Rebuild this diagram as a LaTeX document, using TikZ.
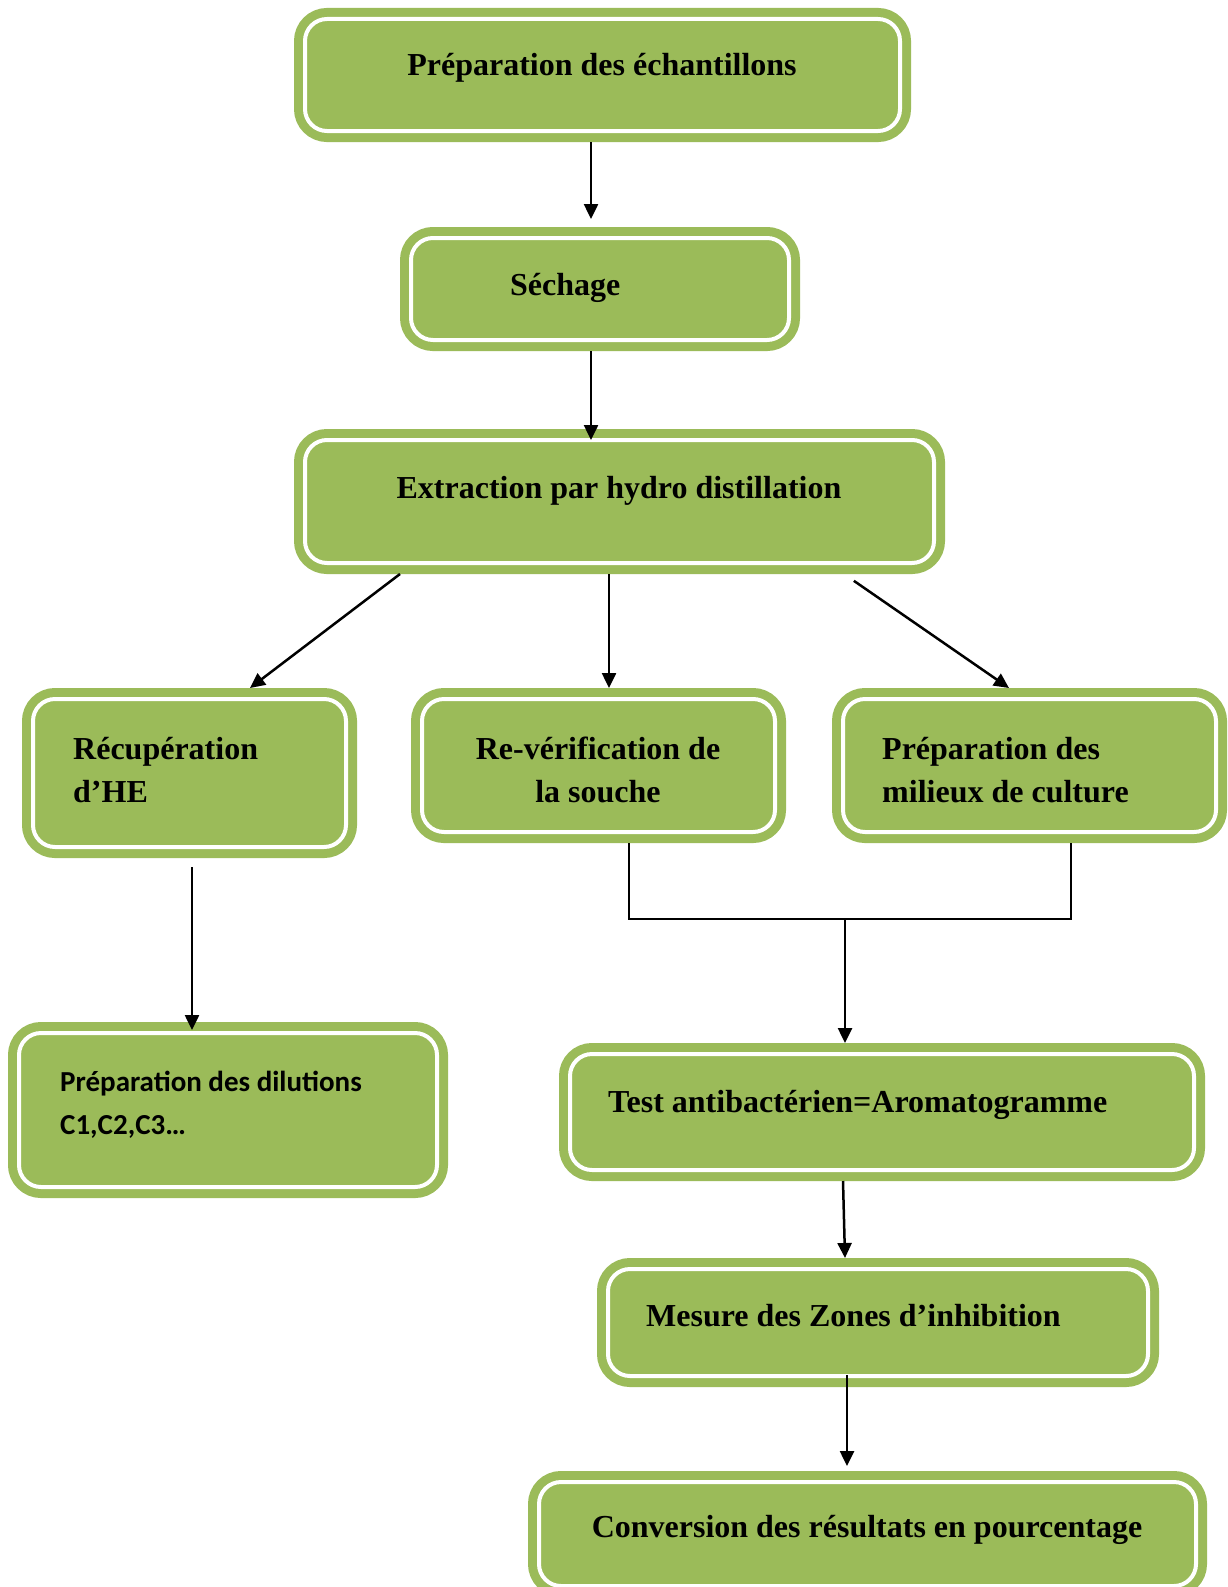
\documentclass[tikz,border=0pt]{standalone}
\usepackage{fontspec}
\setmainfont{Liberation Serif}
\newfontfamily\calibri{Carlito}
\definecolor{heolive}{RGB}{155,187,89}
\usetikzlibrary{arrows.meta}

\begin{document}
\begin{tikzpicture}[x=1pt,y=-1pt,
  stage/.style={draw=heolive,fill=heolive,line width=9pt,double=white,
    double distance=4pt,rounded corners=22pt,outer sep=11pt,inner sep=0pt},
  stagetext/.style={font=\fontsize{32}{42.5}\selectfont\bfseries,inner sep=0pt},
  link/.style={line width=1.6pt,black},
  arr/.style={line width=2.5pt,black,-{Triangle[length=15pt,width=14pt]}}]
  \useasboundingbox (0,0) rectangle (1227,1587);

  % Top of the chain
  \node[stage,minimum width=595pt,minimum height=112pt] (prep) at (602.5,75) {};
  \node[stagetext,anchor=base] (prepT) at (602,76) {Préparation des échantillons};

  \node[stage,minimum width=378pt,minimum height=102pt] (sech) at (600,289) {};
  \node[stagetext,anchor=base west] (sechT) at (510,295) {Séchage};

  \node[stage,minimum width=629pt,minimum height=123pt] (extr) at (619.5,501.5) {};
  \node[stagetext,anchor=base] (extrT) at (619,498) {Extraction par hydro distillation};

  % Three branches
  \node[stage,minimum width=313pt,minimum height=148pt] (recup) at (189.5,773) {};
  \node[stagetext,anchor=west,align=left] (recupT) at (73,770) {Récupération\\d’HE};

  \node[stage,minimum width=353pt,minimum height=133pt] (verif) at (598.5,765.5) {};
  \node[stagetext,align=center] (verifT) at (598,770) {Re-vérification de\\la souche};

  \node[stage,minimum width=373pt,minimum height=133pt] (milieu) at (1029.5,765.5) {};
  \node[stagetext,anchor=west,align=left] (milieuT) at (882,770) {Préparation des\\milieux de culture};

  % Lower boxes
  \node[stage,minimum width=418pt,minimum height=154pt] (dilut) at (228,1110) {};
  \node[font=\fontsize{29}{43}\calibri\bfseries,inner sep=0pt,anchor=west,align=left]
    (dilutT) at (60,1105) {Préparation des dilutions\\C1,C2,C3…};

  \node[stage,minimum width=624pt,minimum height=116pt] (test) at (882,1112) {};
  \node[stagetext,anchor=base west] (testT) at (608,1112) {Test antibactérien=Aromatogramme};

  \node[stage,minimum width=540pt,minimum height=107pt] (mesure) at (878,1322.5) {};
  \node[stagetext,anchor=base west] (mesureT) at (646,1326) {Mesure des Zones d’inhibition};

  \node[stage,minimum width=657pt,minimum height=104pt] (conv) at (867.5,1534) {};
  \node[stagetext,anchor=base] (convT) at (867,1537) {Conversion des résultats en pourcentage};

  % Arrows
  \draw[arr,shorten >=8pt] ([xshift=-11.5pt]prep.south) -- ([xshift=-9pt]sech.north);
  \draw[arr,shorten >=-11pt] ([xshift=-9pt]sech.south) -- ([xshift=-28.5pt]extr.north);
  \draw[arr] ([xshift=-219.5pt]extr.south) -- ([xshift=60.5pt]recup.north);
  \draw[arr] ([xshift=-10.5pt]extr.south) -- ([xshift=10.5pt]verif.north);
  \draw[arr,shorten <=12pt] ([xshift=224.5pt]extr.south) -- ([xshift=-20.5pt]milieu.north);
  \draw[arr,shorten <=9pt,shorten >=-8pt] ([xshift=2.5pt]recup.south) -- ([xshift=-36pt]dilut.north);

  % Joining the two right branches
  \coordinate (join) at (845,919);
  \draw[link] ([xshift=30.5pt]verif.south) |- (join) -| ([xshift=41.5pt]milieu.south);
  \draw[arr] (join) -- ([xshift=-37pt]test.north);

  \draw[arr] ([xshift=-39pt]test.south) -- ([xshift=-33pt]mesure.north);
  \draw[arr,shorten <=-12pt,shorten >=5pt] ([xshift=-31pt]mesure.south) -- ([xshift=-20.5pt]conv.north);
\end{tikzpicture}
\end{document}
